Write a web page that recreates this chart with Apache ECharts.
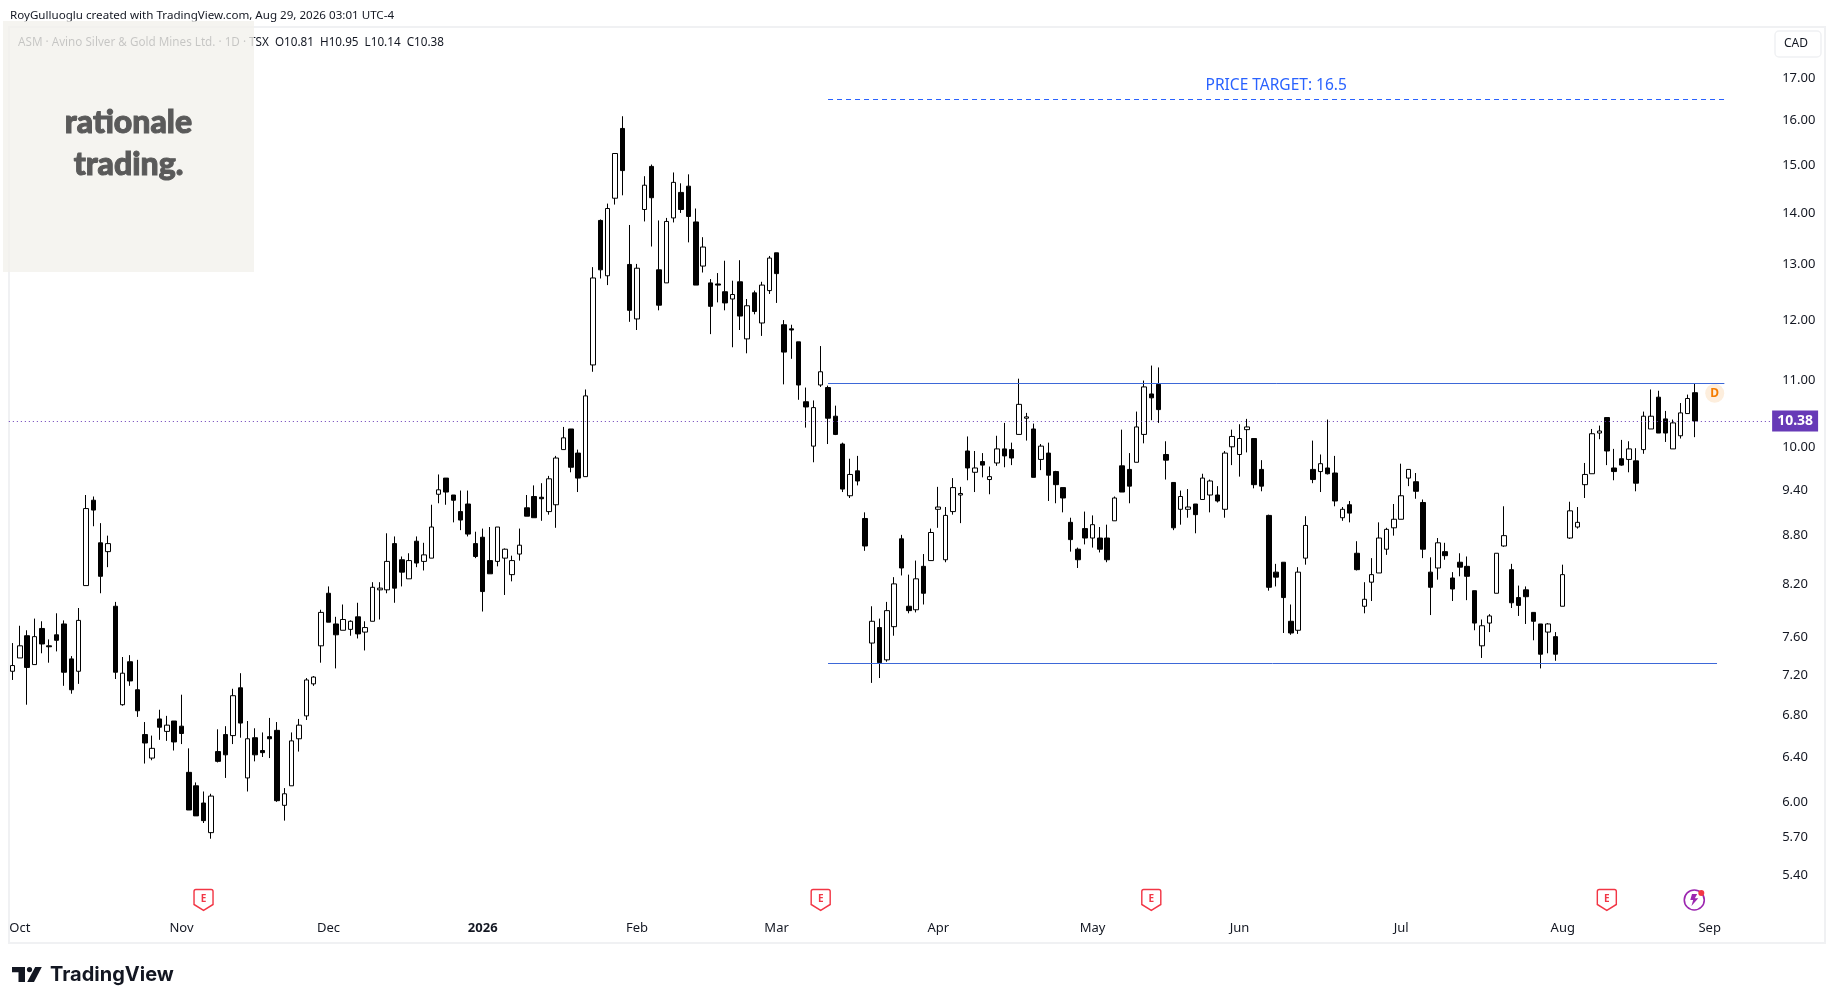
<!DOCTYPE html>
<html><head><meta charset="utf-8">
<style>html,body{margin:0;padding:0;background:#fff}#c{width:1835px;height:1004px}</style>
<script src="https://cdn.jsdelivr.net/npm/echarts@6/dist/echarts.min.js"></script>
</head><body><div id="c"></div>
<script>
const opens=[7.24,7.38,7.62,7.31,7.70,7.51,7.63,7.75,7.37,7.24,
8.19,9.26,8.71,8.60,7.95,6.90,7.34,7.05,6.61,6.39,
6.76,6.64,6.74,6.69,6.26,6.14,5.99,5.74,6.45,6.61,
6.60,7.07,6.21,6.58,6.46,6.59,6.65,5.97,6.14,6.57,
6.79,7.11,7.51,8.10,7.75,7.68,7.69,7.83,7.66,7.78,
8.14,8.14,8.70,8.50,8.27,8.73,8.48,8.52,9.34,9.56,
9.33,9.11,9.21,8.70,8.78,8.49,8.48,8.52,8.32,8.57,
9.16,9.31,9.30,9.11,9.20,9.96,10.26,9.91,9.58,11.25,
13.85,12.79,14.30,15.81,13.00,12.02,14.07,14.97,12.90,12.66,
13.90,14.42,14.55,13.82,12.97,12.66,12.64,12.50,12.37,12.68,
11.68,12.48,11.95,12.52,13.22,11.92,11.85,11.63,10.67,10.01,
10.93,10.89,10.45,10.04,9.32,9.66,9.02,7.54,7.71,7.36,
7.72,8.76,7.95,7.91,8.42,8.49,9.14,8.50,9.11,9.33,
9.94,9.64,9.79,9.54,9.77,9.97,9.96,10.18,10.42,10.26,
9.82,9.91,9.65,9.43,8.97,8.63,8.89,8.77,8.77,8.77,
8.99,9.73,9.68,9.78,10.18,10.79,10.94,9.89,9.50,9.14,
9.14,9.21,9.27,9.33,9.33,9.14,10.00,9.89,10.25,10.12,
9.68,9.06,8.35,8.47,7.78,7.68,8.52,9.68,9.65,9.70,
9.63,9.03,9.20,8.58,7.95,8.23,8.34,8.63,8.90,9.01,
9.56,9.51,9.23,8.35,8.40,8.60,8.28,8.47,8.42,8.13,
7.51,7.76,8.10,8.67,8.38,8.05,8.14,7.88,7.75,7.66,
7.61,7.95,8.77,8.91,9.47,9.62,10.20,10.43,9.70,9.83,
9.82,9.80,9.96,10.26,10.74,10.41,9.97,10.16,10.49,10.81];
const closes=[7.30,7.51,7.28,7.61,7.53,7.50,7.57,7.23,7.05,7.79,
9.15,9.13,8.30,8.70,7.23,7.22,7.14,6.84,6.53,6.48,
6.68,6.70,6.54,6.62,5.93,5.88,5.84,6.05,6.36,6.42,
6.99,6.72,6.57,6.42,6.44,6.57,6.01,6.07,6.55,6.70,
7.15,7.18,7.88,7.77,7.63,7.80,7.78,7.64,7.71,8.17,
8.16,8.48,8.16,8.35,8.49,8.46,8.56,8.91,9.40,9.37,
9.26,9.00,8.82,8.54,8.12,8.33,8.91,8.63,8.49,8.68,
9.05,9.03,9.28,9.55,9.84,10.13,9.71,9.56,10.76,12.75,
12.90,14.09,15.25,14.88,12.17,12.93,14.57,14.31,12.26,13.83,
14.63,14.07,13.93,12.62,13.33,12.24,12.62,12.30,12.45,12.07,
12.25,12.15,12.62,13.12,12.83,11.46,11.83,10.93,10.59,10.58,
11.14,10.42,10.18,9.41,9.61,9.52,8.67,7.78,7.33,7.90,
8.21,8.40,7.90,8.27,8.10,8.84,9.17,9.06,9.43,9.35,
9.70,9.70,9.74,9.58,9.97,9.87,9.84,10.63,10.44,9.57,
10.01,9.60,9.47,9.29,8.75,8.50,8.77,8.94,8.63,8.50,
9.29,9.37,9.45,10.29,10.90,10.73,10.55,9.81,8.90,9.31,
9.17,9.07,9.56,9.52,9.25,9.91,10.15,10.12,10.29,9.47,
9.45,8.17,8.29,8.05,7.65,8.35,8.93,9.54,9.76,9.62,
9.25,9.14,9.09,8.38,8.03,8.32,8.77,8.88,9.01,9.32,
9.68,9.38,8.63,8.17,8.71,8.55,8.15,8.41,8.30,7.76,
7.73,7.84,8.58,8.80,7.99,7.96,8.06,7.78,7.42,7.75,
7.42,8.32,9.12,8.97,9.61,10.19,10.23,9.94,9.65,9.74,
9.97,9.49,10.45,10.45,10.20,10.20,10.35,10.50,10.72,10.38];
const highs=[7.54,7.73,7.68,7.81,7.78,7.58,7.87,7.79,7.40,7.93,
9.33,9.31,8.96,8.80,8.00,7.39,7.41,7.36,6.73,6.60,
6.85,6.79,6.74,7.00,6.48,6.17,6.09,6.07,6.66,6.69,
7.06,7.22,6.74,6.67,6.63,6.77,6.73,6.12,6.63,6.76,
7.17,7.19,7.91,8.18,7.83,7.97,7.79,7.99,7.78,8.23,
8.23,8.83,8.79,8.54,8.58,8.79,8.71,9.20,9.61,9.56,
9.33,9.39,9.39,8.85,8.89,8.91,8.91,8.64,8.55,8.89,
9.33,9.46,9.49,9.59,9.87,10.29,10.26,9.96,10.86,12.95,
13.87,14.19,15.25,16.09,13.76,13.01,14.76,15.01,13.85,13.90,
14.84,14.61,14.80,14.09,13.52,12.73,12.84,13.07,12.70,13.08,
12.37,12.52,12.68,13.16,13.22,12.00,11.92,11.63,10.89,10.69,
11.56,10.92,10.61,10.06,9.83,9.87,9.10,7.95,7.81,8.00,
8.29,8.81,8.32,8.49,8.57,8.89,9.44,9.17,9.56,9.44,
10.15,9.94,9.91,9.72,10.16,10.35,10.06,11.03,10.50,10.34,
10.04,10.06,9.66,9.43,9.03,8.65,9.11,9.06,8.91,8.94,
9.31,10.25,9.91,10.52,11.00,11.24,11.21,10.08,9.50,9.39,
9.41,9.21,9.62,9.54,9.45,9.94,10.25,10.33,10.41,10.12,
9.81,9.07,8.45,8.47,7.97,8.41,9.05,10.09,9.89,10.40,
9.87,9.17,9.25,8.73,8.23,8.52,8.97,8.90,9.21,9.76,
9.68,9.63,9.27,8.53,8.77,8.71,8.35,8.58,8.54,8.13,
7.80,7.86,8.58,9.18,8.45,8.19,8.18,7.88,7.75,7.76,
7.66,8.44,9.24,9.17,9.77,10.26,10.31,10.43,9.97,10.10,
10.08,9.98,10.52,10.86,10.84,10.53,10.40,10.65,10.78,10.95];
const lows=[7.15,7.38,6.90,7.31,7.43,7.33,7.45,7.09,7.01,7.11,
8.19,8.92,8.10,8.41,7.16,6.89,7.09,6.78,6.34,6.37,
6.56,6.55,6.46,6.52,5.93,5.88,5.82,5.69,6.35,6.21,
6.52,6.58,6.09,6.36,6.40,6.39,6.00,5.84,6.14,6.45,
6.75,7.09,7.33,7.77,7.27,7.68,7.62,7.59,7.46,7.78,
7.80,8.10,7.99,8.18,8.27,8.41,8.37,8.52,9.22,9.20,
8.97,8.87,8.79,8.52,7.89,8.33,8.42,8.08,8.24,8.49,
9.05,9.03,8.99,9.07,8.90,9.96,9.64,9.37,9.58,11.14,
12.74,12.62,14.17,14.36,11.97,11.83,13.83,13.34,12.17,12.66,
13.81,14.00,13.42,12.62,12.85,11.76,12.31,12.17,11.54,11.83,
11.44,12.10,11.73,12.46,12.30,10.94,11.35,10.70,10.28,9.78,
10.90,10.04,10.17,9.37,9.29,9.46,8.61,7.12,7.17,7.34,
7.62,8.31,7.87,7.88,7.97,8.49,8.90,8.47,9.07,8.96,
9.53,9.37,9.57,9.34,9.73,9.71,9.74,10.18,10.09,9.57,
9.67,9.25,9.22,9.10,8.60,8.40,8.69,8.65,8.59,8.47,
8.99,9.37,9.22,9.78,10.05,10.39,10.35,9.54,8.87,8.94,
9.03,8.83,9.27,9.10,9.23,9.03,9.74,9.58,9.92,9.42,
9.38,8.13,8.18,7.65,7.63,7.64,8.44,9.49,9.37,9.61,
9.18,8.99,8.97,8.37,7.87,8.01,8.34,8.56,8.80,9.01,
9.45,9.28,8.52,7.85,8.26,8.50,8.01,8.30,8.02,7.68,
7.38,7.66,8.10,8.66,7.93,7.84,7.75,7.57,7.27,7.43,
7.35,7.95,8.76,8.89,9.29,9.62,10.11,9.74,9.53,9.73,
9.64,9.38,9.90,10.26,10.20,10.07,9.97,10.12,10.49,10.14];

const monthIndex=[1,23,43,64,85,104,126,147,167,189,211,231];
const monthLabels=['Oct','Nov','Dec','2026','Feb','Mar','Apr','May','Jun','Jul','Aug','Sep'];
const slotCount=240;
const priceTicks=[5.4,5.7,6,6.4,6.8,7.2,7.6,8.2,8.8,9.4,10,11,12,13,14,15,16,17];
const lastPrice=10.38, resistance=10.96, support=7.32, target=16.49;
const levelStart=111, resistanceEnd=233, supportEnd=232, targetEnd=233;
const earningsIndex=[26,110,155,217];
const markerPrice=5.21;
const dividendIndex=232, dividendPrice=10.80, eventIndex=229;

const categories=Array.from({length:slotCount},(_,i)=>{const k=monthIndex.indexOf(i);return k>=0?monthLabels[k]:''});
const candles=opens.map((o,i)=>[o,closes[i],lows[i],highs[i]]);
const F='"Noto Sans",sans-serif', INK='#131722';
const txt=(x,y,text,o)=>({type:'text',x,y,silent:true,style:Object.assign({text,fontFamily:F,fontSize:12,fill:INK,textVerticalAlign:'middle'},o||{})});

const chart=echarts.init(document.getElementById('c'),null,{renderer:'canvas',width:1835,height:1004});
chart.setOption({
 animation:false,backgroundColor:'#fff',
 grid:{left:8.83,width:1763.3,top:28.7,height:913.9,containLabel:false},
 xAxis:{type:'category',data:categories,boundaryGap:true,axisLine:{show:false},axisTick:{show:false},splitLine:{show:false},
  axisLabel:{inside:true,margin:8,interval:0,hideOverlap:false,fontFamily:F,fontSize:13,color:INK,
   formatter:v=>v==='2026'?'{b|2026}':v,rich:{b:{fontWeight:'bold',fontFamily:F,fontSize:13,color:INK}}}},
 yAxis:{type:'log',logBase:10,min:4.9,max:18.25,position:'right',scale:true,axisLine:{show:false},axisTick:{show:false},splitLine:{show:false},minorSplitLine:{show:false},
  axisLabel:{customValues:priceTicks,margin:10,fontFamily:F,fontSize:13,color:INK,formatter:v=>Number(v).toFixed(2)}},
 series:[
  {type:'candlestick',data:candles,barWidth:5,clip:false,
   itemStyle:{color:'#fff',color0:'#000',borderColor:'#000',borderColor0:'#000',borderColorDoji:'#000',borderWidth:1},
   markLine:{silent:true,symbol:'none',animation:false,precision:2,data:[
    {yAxis:lastPrice,lineStyle:{color:'#673ab7',type:[1,3],width:1},
     label:{show:true,position:'end',distance:0,formatter:lastPrice.toFixed(2),backgroundColor:'#673ab7',color:'#fff',fontFamily:F,fontWeight:'bold',fontSize:14,lineHeight:15,padding:[3,5,3,5]}},
    [{coord:[levelStart,resistance],lineStyle:{color:'#3d68d8',type:'solid',width:1},label:{show:false}},{coord:[resistanceEnd,resistance]}],
    [{coord:[levelStart,support],lineStyle:{color:'#3d68d8',type:'solid',width:1},label:{show:false}},{coord:[supportEnd,support]}],
    [{coord:[levelStart,target],lineStyle:{color:'#2962ff',type:[5,4],width:1.2},
      label:{show:true,position:'insideMiddleTop',distance:6,formatter:'PRICE TARGET: 16.5',color:'#2962ff',fontFamily:F,fontSize:15.5}},{coord:[targetEnd,target]}]
   ]}},
  {type:'scatter',data:earningsIndex.map(i=>[i,markerPrice]),clip:false,symbol:'path://M2 0 H18 Q20 0 20 2 V15 L10 21 L0 15 V2 Q0 0 2 0 Z',symbolSize:[19,21],
   itemStyle:{color:'#fff',borderColor:'#f23645',borderWidth:1.5,opacity:1},
   label:{show:true,position:'inside',formatter:'E',color:'#f23645',fontFamily:F,fontWeight:'bold',fontSize:10,offset:[0,-1]}},
  {type:'scatter',data:[[dividendIndex,dividendPrice]],clip:false,symbol:'circle',symbolSize:19,symbolOffset:[-2.3,0],
   itemStyle:{color:'#fdeedd',opacity:1},
   label:{show:true,position:'inside',formatter:'D',color:'#f57c00',fontFamily:F,fontWeight:'bold',fontSize:12}},
  {type:'scatter',data:[[eventIndex,markerPrice]],clip:false,symbol:'circle',symbolSize:20,symbolOffset:[-0.7,0],
   itemStyle:{color:'#fff',borderColor:'#9c27b0',borderWidth:1.6,opacity:1}},
  {type:'scatter',data:[[eventIndex,markerPrice]],clip:false,symbol:'path://M6 0 H1.5 L0 5 H2.5 L1 10 L7 3.5 H4 Z',symbolSize:[8,12],symbolOffset:[-0.7,0],
   itemStyle:{color:'#9c27b0',opacity:1},z:3},
  {type:'scatter',data:[[eventIndex,markerPrice]],clip:false,symbol:'circle',symbolSize:6,symbolOffset:[6.3,-7],
   itemStyle:{color:'#f23645',opacity:1},z:4}
 ],
 graphic:{elements:[
  {type:'rect',z:-1,silent:true,shape:{x:9,y:27,width:1816,height:916},style:{fill:'none',stroke:'#f0f1f3',lineWidth:2}},
  txt(10,16,'RoyGulluoglu created with TradingView.com, Aug 29, 2026 03:01 UTC-4',{fontSize:11.6}),
  txt(18,43,'ASM · Avino Silver & Gold Mines Ltd. · 1D · TSX  O10.81  H10.95  L10.14  C10.38',{fontSize:11.7}),
  {type:'rect',silent:true,z:10,shape:{x:3,y:21,width:251,height:251},style:{fill:'rgba(242,241,236,0.8)'}},
  {type:'text',z:11,x:128.5,y:123,silent:true,style:{text:'rationale',fontFamily:'Lato,sans-serif',fontWeight:900,fontSize:32,fill:'#5a5a5a',stroke:'#5a5a5a',lineWidth:1,textAlign:'center',textVerticalAlign:'middle'}},
  {type:'text',z:11,x:128.5,y:165,silent:true,style:{text:'trading.',fontFamily:'Lato,sans-serif',fontWeight:900,fontSize:32,fill:'#5a5a5a',stroke:'#5a5a5a',lineWidth:1,textAlign:'center',textVerticalAlign:'middle'}},
  {type:'rect',silent:true,shape:{x:1775,y:31,width:46,height:26,r:4},style:{fill:'#fff',stroke:'#f0f1f3',lineWidth:1.5}},
  txt(1784,44,'CAD',{fontSize:12}),
  {type:'polygon',silent:true,shape:{points:[[12,967],[25,967],[25,982],[18.5,982],[18.5,972.2],[12,972.2]]},style:{fill:'#131722'}},
  {type:'circle',silent:true,shape:{cx:29.5,cy:969.6,r:2.6},style:{fill:'#131722'}},
  {type:'polygon',silent:true,shape:{points:[[35.2,967],[41.8,967],[34,982],[27.2,982]]},style:{fill:'#131722'}},
  {type:'text',x:50,y:974.5,silent:true,style:{text:'TradingView',fontFamily:'Inter,sans-serif',fontWeight:700,fontSize:20,fill:'#131722',textVerticalAlign:'middle'}}
 ]}
});
</script></body></html>
